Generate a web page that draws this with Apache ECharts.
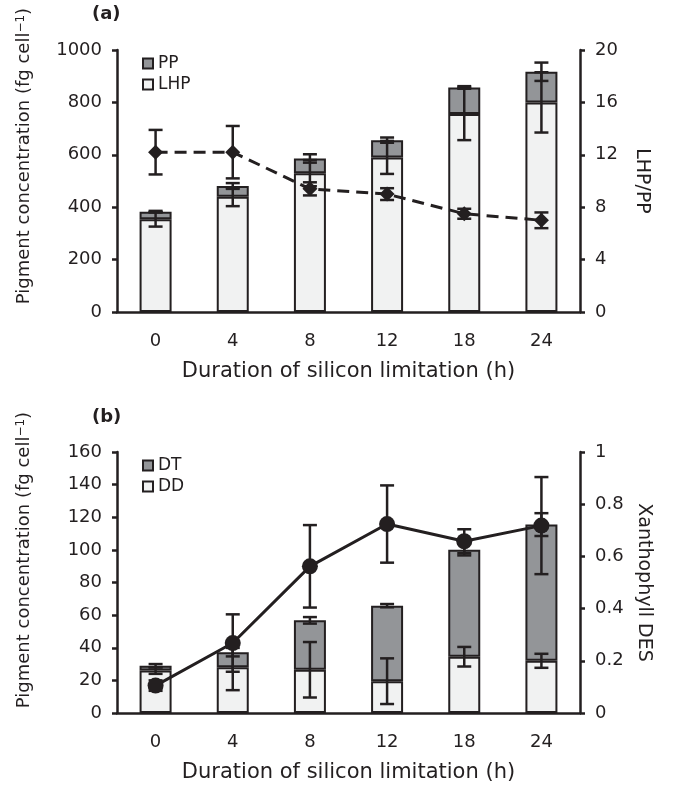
<!DOCTYPE html>
<html>
<head>
<meta charset="utf-8">
<script src="https://cdn.jsdelivr.net/npm/echarts@6/dist/echarts.min.js"></script>
<style>
  html, body { margin: 0; padding: 0; background: #fff; }
  #chart { width: 677px; height: 785px; }
</style>
</head>
<body>
<div id="chart"></div>
<script>
// 时间点
var hours = ['0', '4', '8', '12', '18', '24'];

// (a) 色素
var lhp = [354, 440, 530, 590, 756, 800];
var pp = [29, 41, 56, 66, 101, 117];
var lhpErr = [28, 36, 50, 63, 100, 115];
var ppErr = [3, 11, 16, 10, 5, 35];
var ratio = [12.2, 12.2, 9.4, 9.0, 7.5, 7.0];
var ratioErr = [1.7, 2.0, 0.5, 0.45, 0.38, 0.6];

// (b) 叶黄素
var dd = [26, 28, 26.5, 19.5, 34.5, 32];
var dt = [3, 9.3, 30.3, 46.3, 65.6, 83.5];
var ddErr = [2, 14, 17, 14, 6, 4.3];
var dtErr = [1, 2.6, 2, 1, 3.5, 7];
var des = [0.105, 0.268, 0.562, 0.724, 0.658, 0.718];
var desErr = [0.02, 0.11, 0.158, 0.148, 0.046, 0.186];

var ink = '#231f20';
var light = '#f1f2f2';
var gray = '#939598';
var font = "'DejaVu Sans', sans-serif";

// 误差线数据 [x, 中心, 误差]
function errData(center, err) {
    return center.map(function(v, i) {
        return [i, v, err[i]];
    });
}

function stackTop(a, b) {
    return a.map(function(v, i) {
        return v + b[i];
    });
}

function errRender(params, api) {
    var x = api.value(0), y = api.value(1), e = api.value(2);
    var hi = api.coord([x, y + e]);
    var lo = api.coord([x, y - e]);
    var hw = 7;
    var style = { stroke: ink, lineWidth: 2.5 };
    return {
        type: 'group',
        children: [
            { type: 'line', shape: { x1: hi[0], y1: hi[1], x2: lo[0], y2: lo[1] }, style: style },
            { type: 'line', shape: { x1: hi[0] - hw, y1: hi[1], x2: hi[0] + hw, y2: hi[1] }, style: style },
            { type: 'line', shape: { x1: lo[0] - hw, y1: lo[1], x2: lo[0] + hw, y2: lo[1] }, style: style }
        ]
    };
}

function errSeries(gi, yi, center, err) {
    return {
        type: 'custom',
        xAxisIndex: gi,
        yAxisIndex: yi,
        renderItem: errRender,
        data: errData(center, err),
        z: 4,
        silent: true
    };
}

function xAxis(gi) {
    return {
        type: 'category',
        gridIndex: gi,
        data: hours,
        boundaryGap: true,
        axisLine: { lineStyle: { color: ink, width: 2.5 } },
        axisTick: { length: 5, lineStyle: { color: ink, width: 2.5 } },
        axisLabel: { color: ink, fontSize: 18, fontFamily: font, margin: 20 },
        name: 'Duration of silicon limitation (h)',
        nameLocation: 'middle',
        nameGap: 49,
        nameTextStyle: { color: ink, fontSize: 21, fontFamily: font }
    };
}

function yAxis(gi, pos, max, interval, name) {
    var ax = {
        type: 'value',
        gridIndex: gi,
        position: pos,
        min: 0,
        max: max,
        interval: interval,
        splitLine: { show: false },
        axisLine: { show: true, lineStyle: { color: ink, width: 2.5 } },
        axisTick: { show: true, length: 5, lineStyle: { color: ink, width: 2.5 } },
        axisLabel: {
            color: ink, fontSize: 18, fontFamily: font, margin: 15,
            formatter: function(v) { return String(v); }
        }
    };
    if (name) {
        ax.name = name;
        ax.nameLocation = 'middle';
        ax.nameRotate = -90;
        ax.nameGap = 52;
        ax.nameTextStyle = { color: ink, fontSize: 19, fontFamily: font };
    }
    return ax;
}

function barSeries(name, gi, data, color) {
    return {
        name: name,
        type: 'bar',
        xAxisIndex: gi,
        yAxisIndex: gi * 2,
        stack: 'g' + gi,
        barWidth: 32,
        data: data,
        itemStyle: { color: color, borderColor: ink, borderWidth: 2 },
        z: 2
    };
}

function legend(top, names) {
    return {
        left: 142,
        top: top,
        padding: 0,
        orient: 'vertical',
        icon: 'rect',
        itemWidth: 10,
        itemHeight: 10,
        itemGap: 4,
        data: names,
        selectedMode: false,
        itemStyle: { borderColor: ink, borderWidth: 2 },
        textStyle: { color: ink, fontSize: 17, fontFamily: font, lineHeight: 17 }
    };
}

function sideTitle(y) {
    return {
        type: 'text',
        x: 24,
        y: y,
        rotation: Math.PI / 2,
        style: {
            text: 'Pigment concentration (fg cell{sup|\u22121})',
            fill: ink,
            font: '18px ' + font,
            align: 'center',
            verticalAlign: 'middle',
            rich: {
                sup: { fontSize: 12, fontFamily: font, fill: ink, verticalAlign: 'top', lineHeight: 12 }
            }
        }
    };
}

var chart = echarts.init(document.getElementById('chart'));

chart.setOption({
    animation: false,
    backgroundColor: '#fff',
    grid: [
        { left: 117, right: 97, top: 50, height: 262 },
        { left: 117, right: 97, top: 452, height: 261 }
    ],
    legend: [
        legend(55, ['PP', 'LHP']),
        legend(457, ['DT', 'DD'])
    ],
    xAxis: [xAxis(0), xAxis(1)],
    yAxis: [
        yAxis(0, 'left', 1000, 200),
        yAxis(0, 'right', 20, 4, 'LHP/PP'),
        yAxis(1, 'left', 160, 20),
        yAxis(1, 'right', 1, 0.2, 'Xanthophyll DES')
    ],
    graphic: [
        sideTitle(156),
        sideTitle(560),
        { type: 'text', x: 92, y: 5, style: { text: '(a)', fill: ink, font: 'bold 18px ' + font } },
        { type: 'text', x: 92, y: 408, style: { text: '(b)', fill: ink, font: 'bold 18px ' + font } }
    ],
    series: [
        barSeries('LHP', 0, lhp, light),
        barSeries('PP', 0, pp, gray),
        errSeries(0, 0, lhp, lhpErr),
        errSeries(0, 0, stackTop(lhp, pp), ppErr),
        errSeries(0, 1, ratio, ratioErr),
        {
            name: 'LHP/PP',
            type: 'line',
            xAxisIndex: 0,
            yAxisIndex: 1,
            data: ratio,
            symbol: 'diamond',
            symbolSize: 15,
            lineStyle: { color: ink, width: 3, type: [12, 7] },
            itemStyle: { color: ink },
            z: 6
        },

        barSeries('DD', 1, dd, light),
        barSeries('DT', 1, dt, gray),
        errSeries(1, 2, dd, ddErr),
        errSeries(1, 2, stackTop(dd, dt), dtErr),
        errSeries(1, 3, des, desErr),
        {
            name: 'DES',
            type: 'line',
            xAxisIndex: 1,
            yAxisIndex: 3,
            data: des,
            symbol: 'circle',
            symbolSize: 16,
            lineStyle: { color: ink, width: 3 },
            itemStyle: { color: ink },
            z: 6
        }
    ]
});
</script>
</body>
</html>
